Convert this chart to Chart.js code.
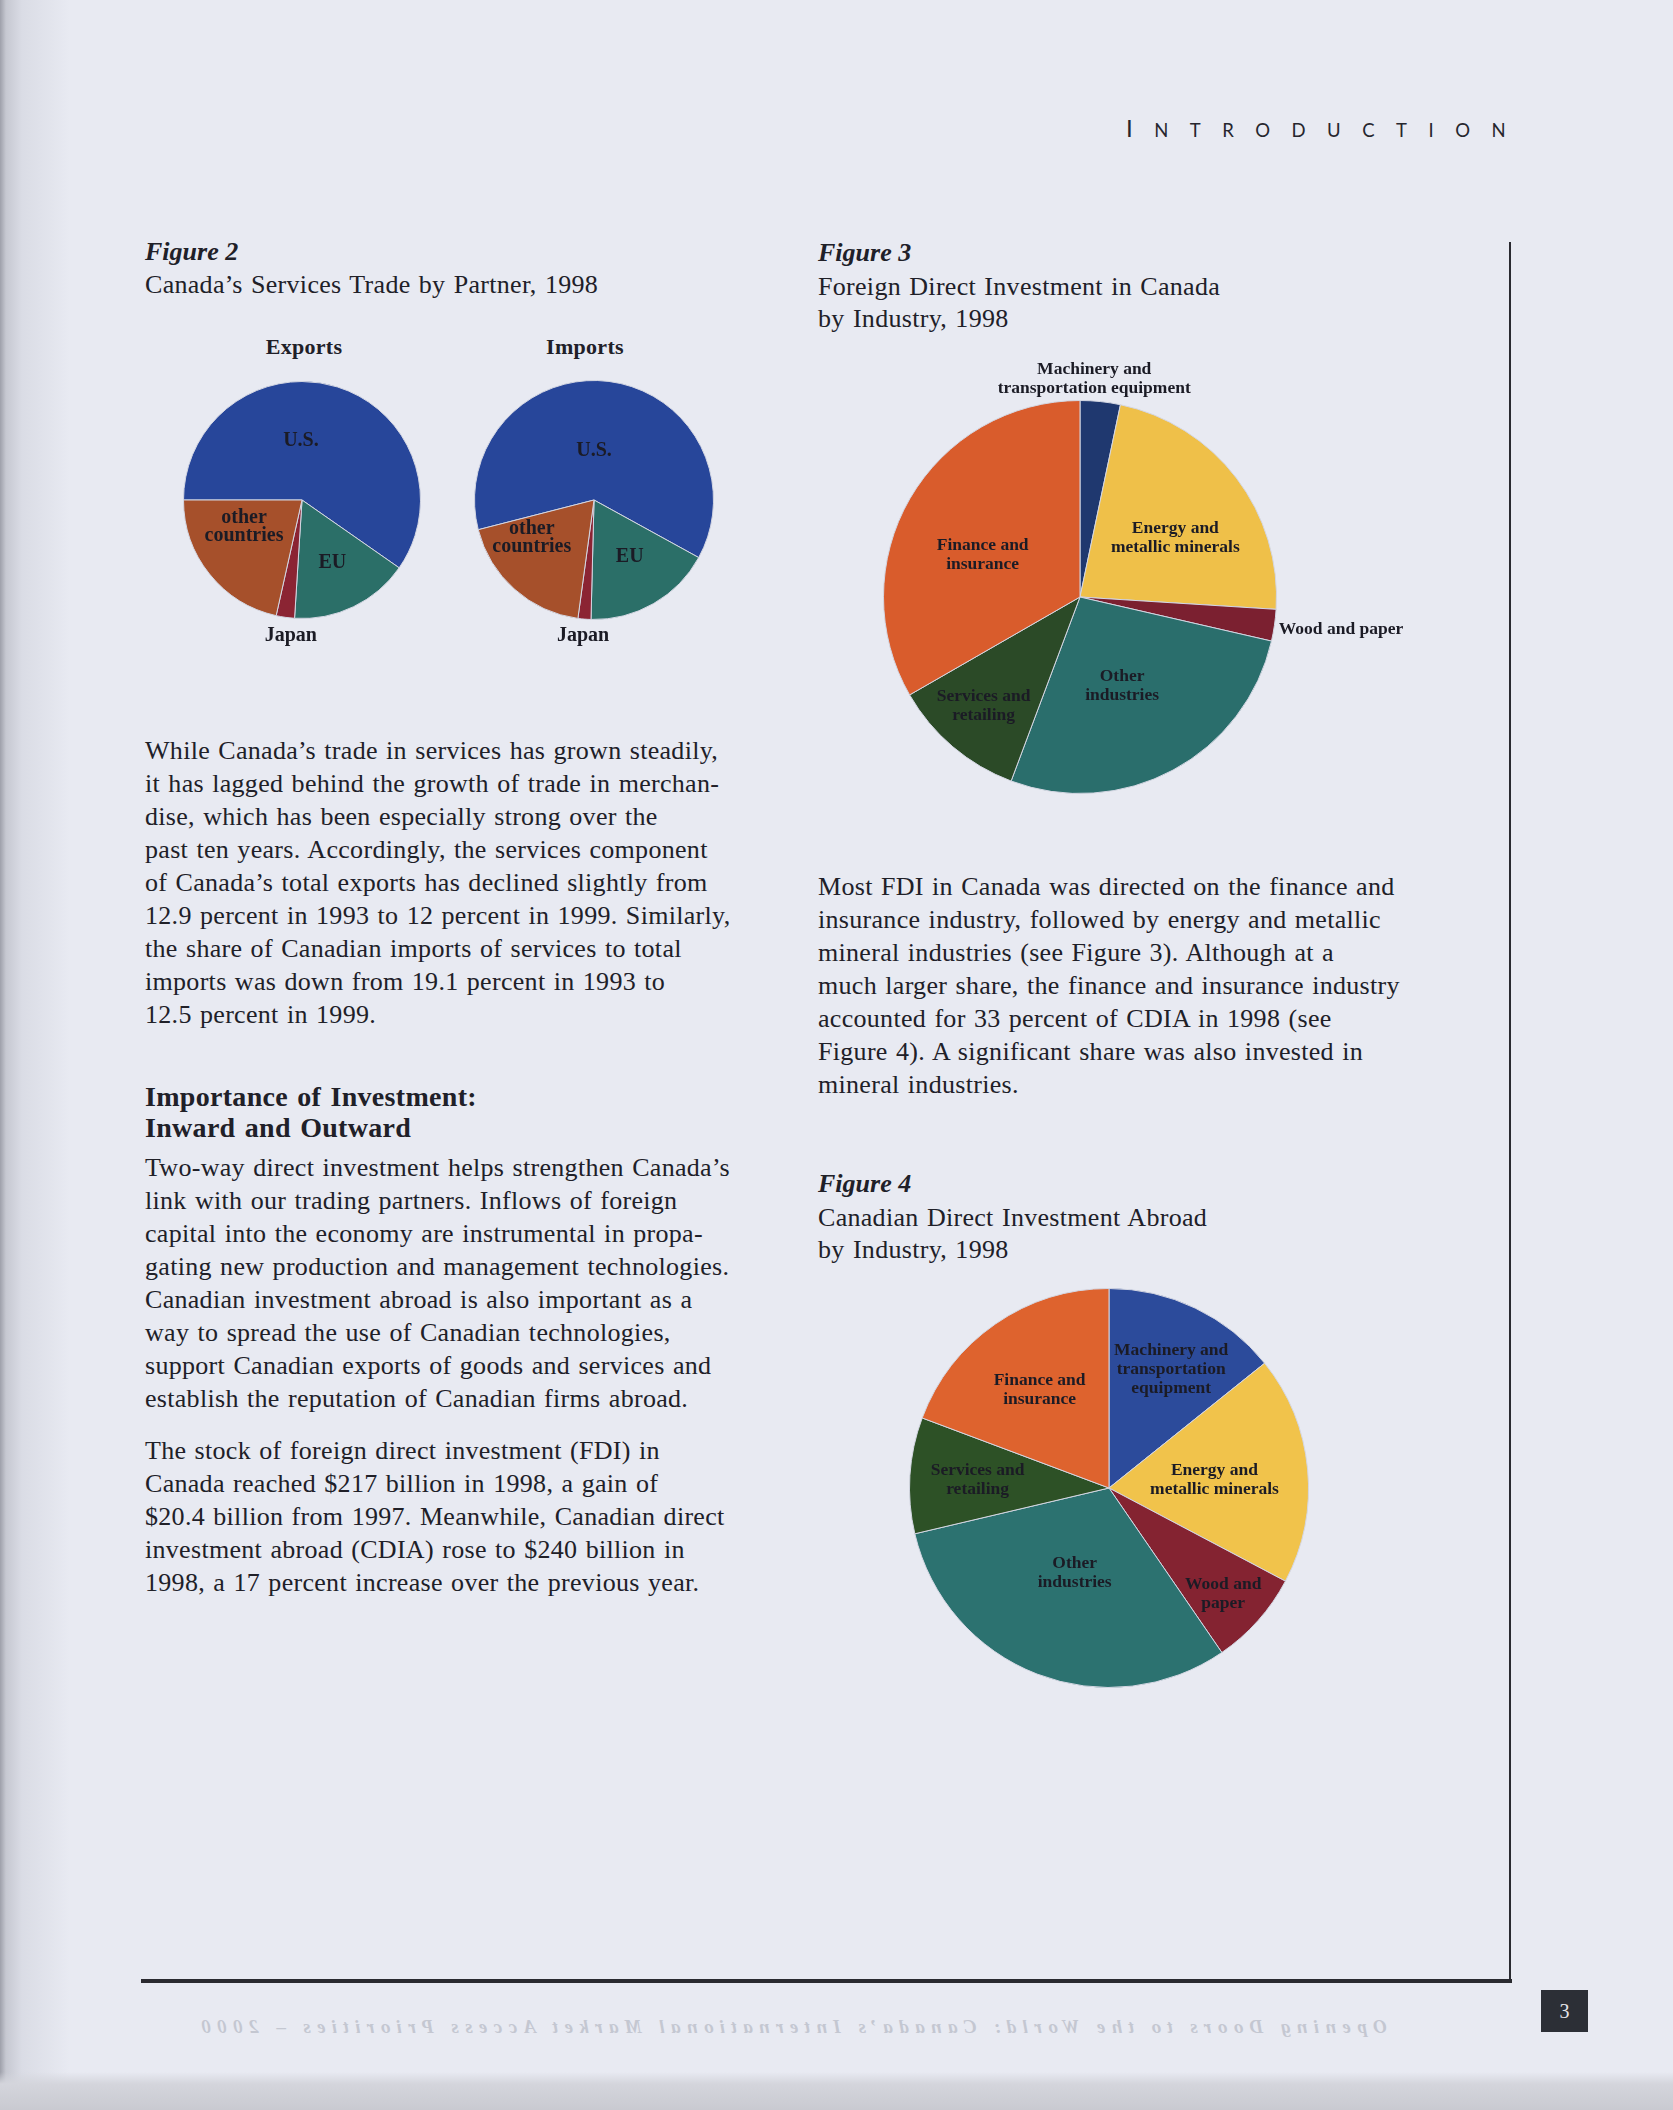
<!DOCTYPE html>
<html><head><meta charset="utf-8">
<script src="https://cdn.jsdelivr.net/npm/chart.js@4.4.1/dist/chart.umd.min.js"></script>
<style>
html,body{margin:0;padding:0;}
body{width:1673px;height:2110px;position:relative;overflow:hidden;background:#e8eaf2;font-family:"Liberation Serif",serif;color:#202028;}
.bgl{position:absolute;left:0;top:0;width:70px;height:2110px;background:linear-gradient(to right,#9ea0aa 0,#c6c8d1 6px,#dadce5 22px,rgba(232,234,242,0) 70px);}
.bgb{position:absolute;left:0;top:2072px;width:1673px;height:38px;background:linear-gradient(to bottom,rgba(232,234,242,0) 0,#d4d5dc 12px,#c9cad1 38px);}
.t{position:absolute;white-space:pre;font-size:26px;line-height:33px;letter-spacing:0.3px;word-spacing:1.5px;}
.h{position:absolute;white-space:pre;font-size:28px;line-height:31px;font-weight:bold;letter-spacing:0.3px;word-spacing:2px;}
.fig{position:absolute;white-space:pre;font-size:26px;line-height:33px;font-weight:bold;font-style:italic;}
.sub{position:absolute;white-space:pre;font-size:22px;line-height:26px;font-weight:bold;letter-spacing:0.3px;text-align:center;}
canvas{position:absolute;}
.intro{position:absolute;left:1126px;top:113px;font-family:Lato,"Open Sans",sans-serif;font-weight:400;color:#26262e;letter-spacing:21.5px;white-space:pre;}
.intro .big{font-size:24px;}
.intro .sm{font-size:18.5px;}
.vline{position:absolute;left:1509px;top:242px;width:2px;height:1741px;background:#2a2a30;}
.hline{position:absolute;left:141px;top:1979px;width:1371px;height:4px;background:#2a2a30;}
.pg{position:absolute;left:1541px;top:1990px;width:47px;height:42px;background:#2c2f36;color:#e4e4e8;font-size:20px;line-height:42px;text-align:center;}
.foot{position:absolute;left:195px;top:2016px;font-size:19px;font-style:italic;font-weight:bold;letter-spacing:6.4px;color:#c4c7d1;white-space:pre;transform:scaleX(-1);}
</style></head>
<body>
<div class="bgl"></div><div class="bgb"></div>
<div class="intro"><span class="big">I</span><span class="sm">NTRODUCTION</span></div>

<div class="fig" style="left:145px;top:235px;">Figure 2</div>
<div class="t" style="left:145px;top:268px;">Canada’s Services Trade by Partner, 1998</div>
<div class="sub" style="left:244px;top:334px;width:120px;">Exports</div>
<div class="sub" style="left:525px;top:334px;width:120px;">Imports</div>
<canvas id="cExp" width="260" height="285" style="left:172px;top:375px;"></canvas>
<canvas id="cImp" width="260" height="285" style="left:464px;top:375px;"></canvas>

<div class="t" style="left:145px;top:734px;">While Canada’s trade in services has grown steadily,
it has lagged behind the growth of trade in merchan-
dise, which has been especially strong over the
past ten years. Accordingly, the services component
of Canada’s total exports has declined slightly from
12.9 percent in 1993 to 12 percent in 1999. Similarly,
the share of Canadian imports of services to total
imports was down from 19.1 percent in 1993 to
12.5 percent in 1999.</div>

<div class="h" style="left:145px;top:1081px;">Importance of Investment:
Inward and Outward</div>

<div class="t" style="left:145px;top:1151px;">Two-way direct investment helps strengthen Canada’s
link with our trading partners. Inflows of foreign
capital into the economy are instrumental in propa-
gating new production and management technologies.
Canadian investment abroad is also important as a
way to spread the use of Canadian technologies,
support Canadian exports of goods and services and
establish the reputation of Canadian firms abroad.</div>

<div class="t" style="left:145px;top:1434px;">The stock of foreign direct investment (FDI) in
Canada reached $217 billion in 1998, a gain of
$20.4 billion from 1997. Meanwhile, Canadian direct
investment abroad (CDIA) rose to $240 billion in
1998, a 17 percent increase over the previous year.</div>

<div class="fig" style="left:818px;top:236px;">Figure 3</div>
<div class="t" style="left:818px;top:271px;line-height:32px;">Foreign Direct Investment in Canada
by Industry, 1998</div>
<canvas id="cFdi" width="560" height="460" style="left:860px;top:350px;"></canvas>

<div class="t" style="left:818px;top:870px;">Most FDI in Canada was directed on the finance and
insurance industry, followed by energy and metallic
mineral industries (see Figure 3). Although at a
much larger share, the finance and insurance industry
accounted for 33 percent of CDIA in 1998 (see
Figure 4). A significant share was also invested in
mineral industries.</div>

<div class="fig" style="left:818px;top:1167px;">Figure 4</div>
<div class="t" style="left:818px;top:1202px;line-height:32px;">Canadian Direct Investment Abroad
by Industry, 1998</div>
<canvas id="cCdia" width="440" height="420" style="left:890px;top:1280px;"></canvas>

<div class="vline"></div><div class="hline"></div>
<div class="pg">3</div>
<div class="foot">Opening Doors to the World: Canada’s International Market Access Priorities – 2000</div>

<script>
// ---- data ----
const exportsCategories = ['U.S.', 'EU', 'Japan', ['other', 'countries']];
const exportsValues = [59.7, 16.3, 2.5, 21.5];
const importsCategories = ['U.S.', 'EU', 'Japan', ['other', 'countries']];
const importsValues = [62.0, 17.4, 1.75, 18.85];
const fdiCategories = [['Machinery and', 'transportation equipment'], ['Energy and', 'metallic minerals'], 'Wood and paper', ['Other', 'industries'], ['Services and', 'retailing'], ['Finance and', 'insurance']];
const fdiValues = [3.3, 22.7, 2.6, 27.1, 11.0, 33.3];
const cdiaCategories = [['Machinery and', 'transportation', 'equipment'], ['Energy and', 'metallic minerals'], ['Wood and', 'paper'], ['Other', 'industries'], ['Services and', 'retailing'], ['Finance and', 'insurance']];
const cdiaValues = [14.25, 18.5, 7.7, 30.9, 9.4, 19.3];

// ---- styles ----
const partnerColors = ['#27469a', '#2b6f68', '#8b2433', '#a6502b'];
const fdiColors = ['#1f386f', '#efc049', '#7b2030', '#2a6e6c', '#2b4a27', '#d95c2c'];
const cdiaColors = ['#2c4b9b', '#f1c34b', '#842331', '#2c7270', '#2d5126', '#de632e'];

const sliceLabels = {
  id: 'sliceLabels',
  afterDatasetsDraw(chart, args, opts) {
    const ctx = chart.ctx;
    const meta = chart.getDatasetMeta(0);
    meta.data.forEach((arc, i) => {
      const p = opts.place[i];
      if (!p) return;
      const pr = arc.getProps(['x', 'y', 'startAngle', 'endAngle', 'outerRadius'], true);
      const mid = (pr.startAngle + pr.endAngle) / 2 + (p.da || 0) * Math.PI / 180;
      const r = pr.outerRadius * p.f;
      const lx = pr.x + Math.cos(mid) * r, ly = pr.y + Math.sin(mid) * r;
      const lab = chart.data.labels[i];
      const lines = Array.isArray(lab) ? lab : [lab];
      ctx.save();
      ctx.font = (p.font || opts.font);
      ctx.fillStyle = opts.color;
      ctx.textAlign = p.align || 'center';
      ctx.textBaseline = 'middle';
      lines.forEach((ln, k) => ctx.fillText(ln, lx, ly + (k - (lines.length - 1) / 2) * opts.lh));
      ctx.restore();
    });
  }
};

function makePie(id, labels, values, colors, rotation, padding, labelOpts) {
  new Chart(document.getElementById(id), {
    type: 'pie',
    data: { labels: labels, datasets: [{ data: values, backgroundColor: colors, borderColor: '#d3d6e2', borderWidth: 1 }] },
    options: {
      responsive: false, animation: false, rotation: rotation,
      layout: { padding: padding },
      plugins: { legend: { display: false }, tooltip: { enabled: false }, sliceLabels: labelOpts }
    },
    plugins: [sliceLabels]
  });
}

const f2font = 'bold 20px "Liberation Serif", serif';
makePie('cExp', exportsCategories, exportsValues, partnerColors, 270,
  { left: 11, right: 11, top: 6, bottom: 41 },
  { font: f2font, lh: 18, color: '#1b1b25', place: [
    { f: 0.5, da: -18.5 }, { f: 0.59, da: 0 }, { f: 1.15, da: -3.4 }, { f: 0.54, da: 13.7 }] });
makePie('cImp', importsCategories, importsValues, partnerColors, 255.6,
  { left: 10, right: 10, top: 5, bottom: 40 },
  { font: f2font, lh: 18, color: '#1b1b25', place: [
    { f: 0.41, da: -7.2 }, { f: 0.56, da: -2.4 }, { f: 1.14, da: 0 }, { f: 0.61, da: 16.9 }] });

const f3font = 'bold 17.5px "Liberation Serif", serif';
makePie('cFdi', fdiCategories, fdiValues, fdiColors, 0,
  { left: 23, right: 143, top: 50, bottom: 16 },
  { font: f3font, lh: 19, color: '#1b1b25', place: [
    { f: 1.11, da: -2.2 }, { f: 0.57, da: 5.6 }, { f: 1.025, da: 1, align: 'left' }, { f: 0.5, da: 2.9 }, { f: 0.74, da: 1.2 }, { f: 0.54, da: -6.6 }] });
makePie('cCdia', cdiaCategories, cdiaValues, cdiaColors, 0,
  { left: 19, right: 21, top: 8, bottom: 12 },
  { font: f3font, lh: 19, color: '#1b1b25', place: [
    { f: 0.67, da: 2.1 }, { f: 0.53, da: 1.2 }, { f: 0.78, da: 1.1 }, { f: 0.46, da: 0.8 }, { f: 0.66, da: 0 }, { f: 0.6, da: -0.7 }] });
</script>
</body></html>
